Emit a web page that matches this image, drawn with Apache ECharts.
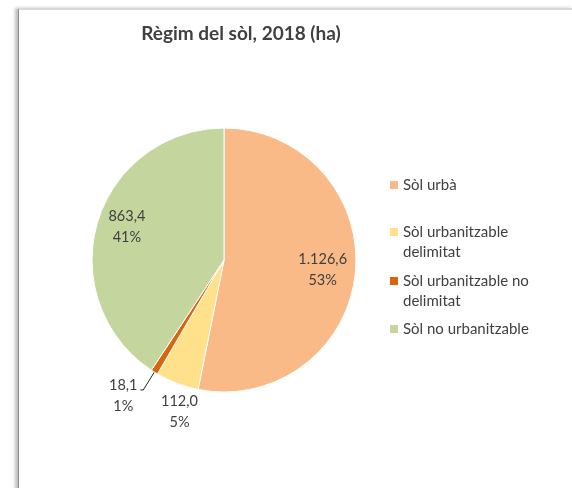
<!DOCTYPE html>
<html>
<head>
<meta charset="utf-8">
<script src="https://cdn.jsdelivr.net/npm/echarts@6/dist/echarts.min.js"></script>
<style>
  html, body { margin: 0; padding: 0; background: #fff; }
  #frame {
    position: absolute; left: 18px; top: 8px; width: 554px; height: 480px;
    border-top: 2px solid #d9d9d9; border-left: 1px solid #8c8c8c;
    box-shadow: -3px 0 3px rgba(0,0,0,0.25);
  }
  #chart { position: absolute; left: 0; top: 0; width: 572px; height: 488px; }
</style>
</head>
<body>
<div id="frame"></div>
<div id="chart"></div>
<script>
// dades (ha)
const categories = ['Sòl urbà', 'Sòl urbanitzable delimitat', 'Sòl urbanitzable no delimitat', 'Sòl no urbanitzable'];
const values = [1126.6, 112.0, 18.1, 863.4];
const colors = ['#F9BA87', '#FFE08B', '#D7660F', '#C4D69E'];

const textColor = '#404040';
const font = 'Lato, "Noto Sans", sans-serif';

// format català: 1.126,6
function fmt(v) {
  let parts = v.toFixed(1).split('.');
  parts[0] = parts[0].replace(/\B(?=(\d{3})+(?!\d))/g, '.');
  return parts.join(',');
}
const total = values.reduce((a, b) => a + b, 0);

let chart = echarts.init(document.getElementById('chart'), null, {renderer: 'canvas'});

// les entrades de dues línies porten el quadrat alineat amb la primera línia
let legendTops = [175, 222, 271, 319];
let legends = categories.map((name, i) => {
  let multi = name.indexOf(' delimitat') > 0;
  return {
    data: [name],
    orient: 'vertical',
    left: 390,
    top: legendTops[i],
    padding: 0,
    icon: multi ? 'path://M0,0L8,0L8,8L0,8Z M0,28' : 'rect',
    itemWidth: 8,
    itemHeight: multi ? 28 : 8,
    itemStyle: { borderWidth: 0 },
    selectedMode: false,
    formatter: n => n.replace(' delimitat', '\ndelimitat'),
    textStyle: { color: textColor, fontFamily: font, fontSize: 15, lineHeight: 20 }
  };
});

let option = {
  animation: false,
  title: {
    text: 'Règim del sòl, 2018 (ha)',
    left: 236,
    top: 19,
    textAlign: 'center',
    textStyle: { color: textColor, fontFamily: font, fontSize: 19, fontWeight: 'bold' }
  },
  legend: legends,
  series: [{
    type: 'pie',
    center: [224, 260],
    radius: [0, 132],
    startAngle: 90,
    clockwise: true,
    avoidLabelOverlap: false,
    itemStyle: { borderColor: '#fff', borderWidth: 1 },
    label: {
      show: true,
      position: 'inside',
      color: textColor,
      fontFamily: font,
      fontSize: 14.5,
      lineHeight: 21,
      formatter: p => fmt(p.value) + '\n' + Math.round(p.value / total * 100) + '%'
    },
    labelLine: { show: false },
    labelLayout: p => {
      let shift = [[30, 3], [-20, 87], null, [-31, -13]][p.dataIndex];
      return shift ? { dx: shift[0], dy: shift[1] } : {};
    },
    data: categories.map((name, i) => {
      let d = { name: name, value: values[i], itemStyle: { color: colors[i] } };
      if (i === 2) {
        d.label = {
          position: 'outside',
          distanceToLabelLine: 2,
          padding: [11, 0, 0, 0],
          formatter: p => '{a|' + fmt(p.value) + '}\n{a|' + Math.round(p.value / total * 100) + '%}',
          rich: { a: { width: 30, align: 'center', color: textColor, fontFamily: font, fontSize: 14.5, lineHeight: 21 } }
        };
        d.labelLine = { show: true, length: 21, length2: 3, lineStyle: { color: '#262626', width: 1 } };
      }
      return d;
    })
  }]
};

chart.setOption(option);
</script>
</body>
</html>
